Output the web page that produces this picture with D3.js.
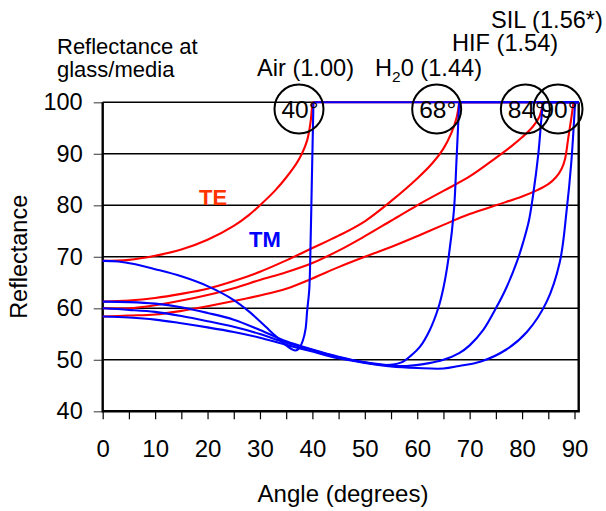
<!DOCTYPE html>
<html><head><meta charset="utf-8">
<script src="https://cdn.jsdelivr.net/npm/d3@7/dist/d3.min.js"></script>
<style>
html,body{margin:0;padding:0;background:#fff;}
svg{display:block;}
text{font-family:"Liberation Sans",Arial,Helvetica,sans-serif;fill:#000;}
</style></head>
<body>
<script>
// ---------- data ----------
const angleTicks = [0,10,20,30,40,50,60,70,80,90];
const minorAngleTicks = [0,5,10,15,20,25,30,35,40,45,50,55,60,65,70,75,80,85,90];
const reflTicks = [40,50,60,70,80,90,100];
const media = ["Air (1.00)", "H20 (1.44)", "HIF (1.54)", "SIL (1.56*)"];
const criticalAngles = [40, 68, 84, 90];
const criticalLabels = ["40°", "68°", "84°", "90°"];

const teAir = [[0,69.2],[5,69.4],[10,70.2],[15,71.4],[20,73.3],[25,76.0],[28,78.2],[30,80.0],[33,83.0],[35,85.4],[37,88.2],[38,90.0],[39,92.6],[39.6,95.8],[40,100]];
const teH2O = [[0,61.3],[5,61.5],[10,62.0],[15,62.8],[20,63.8],[25,65.3],[30,67.1],[35,69.3],[40,71.7],[45,74.1],[50,76.9],[55,80.8],[60,85.2],[63,88.3],[65,91.0],[66.5,94.0],[67.5,97.0],[68,100]];
const teHIF = [[0,60.0],[5,60.0],[10,60.6],[15,61.5],[20,62.6],[25,63.9],[30,65.5],[35,67.0],[40,68.8],[45,71.2],[50,74.0],[55,77.0],[60,80.0],[65,82.8],[70,85.6],[75,89.2],[78,91.5],[80,93.2],[82,95.2],[83.3,97.2],[84,100]];
const teSIL = [[0,58.4],[5,58.6],[10,58.8],[15,59.5],[20,60.4],[25,61.4],[30,62.5],[35,63.8],[40,65.8],[45,68.0],[50,70.0],[55,71.9],[60,74.0],[65,76.2],[70,78.3],[75,80.0],[80,81.7],[83,83.0],[85,84.1],[86.5,85.5],[87.5,87.0],[88.2,89.0],[88.8,93.0],[89.4,97.0],[89.8,100]];

const tmAir = [[0,69.2],[3,69.1],[6,68.6],[10,67.6],[15,66.2],[20,64.3],[25,61.6],[28,59.3],[31,56.5],[33,54.6],[35,52.8],[36,52.1],[36.8,51.8],[37.5,52.3],[38.2,53.8],[38.7,56.0],[39.0,59.5],[39.4,63.6],[39.6,70.0],[39.9,85.0],[40.2,100]];
const tmH2O = [[0,61.3],[5,61.2],[10,60.9],[15,60.2],[20,59.1],[25,57.8],[30,55.8],[35,53.6],[40,52.0],[45,50.6],[50,49.5],[54,49.0],[57,49.5],[59,51.0],[60.5,52.5],[62.4,55.8],[64,60.0],[65,64.0],[66,70.0],[67,79.0],[67.5,89.0],[68,100]];
const tmHIF = [[0,60.0],[5,59.7],[10,59.3],[15,58.5],[20,57.5],[25,56.4],[30,55.0],[35,53.3],[40,51.9],[45,50.5],[50,49.5],[55,48.9],[58,48.8],[62,49.3],[65,50.0],[68,51.3],[70,52.8],[72.6,55.8],[75,60.0],[77,64.0],[79,69.0],[80.2,72.8],[81.3,77.0],[82.1,82.0],[83.1,90.0],[83.7,97.0],[84,100]];
const tmSIL = [[0,58.4],[5,58.2],[10,57.8],[15,57.1],[20,56.3],[25,55.4],[30,54.3],[35,52.9],[40,51.6],[45,50.3],[50,49.4],[55,48.7],[60,48.4],[65,48.3],[68,48.8],[72,49.6],[77,52.0],[81,55.5],[84.7,61.3],[87.2,69.0],[88.5,79.0],[89.4,88.5],[90,98.0],[90.1,100]];

const teSeries = [teAir, teH2O, teHIF, teSIL];
const tmSeries = [tmAir, tmH2O, tmHIF, tmSIL];

// ---------- drawing ----------
const W = 606, H = 511;
const FONT = "Liberation Sans, Arial, sans-serif";
const svg = d3.select("body").append("svg").attr("width", W).attr("height", H);

const xMax = 90.8;
const x = d3.scaleLinear().domain([0, xMax]).range([102.7, 578.7]);
const y = d3.scaleLinear().domain([40, 100]).range([411.3, 102.3]);

// gridlines
svg.append("g").selectAll("line").data(reflTicks.filter(v => v > 40)).join("line")
  .attr("x1", x(0)).attr("x2", x(xMax))
  .attr("y1", d => y(d)).attr("y2", d => y(d))
  .attr("stroke", "#000").attr("stroke-width", 1.6);

// y axis
const yAxis = d3.axisLeft(y).tickValues(reflTicks).tickSize(9).tickPadding(11);
const gy = svg.append("g").attr("transform", `translate(${x(0)},0)`).call(yAxis);
gy.select(".domain").remove();
gy.selectAll(".tick line").attr("stroke", "#555").attr("stroke-width", 1.2);
gy.selectAll(".tick text").attr("font-size", 23.5).attr("font-family", FONT).attr("fill", "#000");

// x axis
const xAxis = d3.axisBottom(x).tickValues(minorAngleTicks).tickSize(8)
  .tickFormat(d => angleTicks.includes(d) ? d : "").tickPadding(21);
const gx = svg.append("g").attr("transform", `translate(0,${y(40)})`).call(xAxis);
gx.select(".domain").remove();
gx.selectAll(".tick line").attr("stroke", "#000").attr("stroke-width", 1.2);
gx.selectAll(".tick text").attr("font-size", 24).attr("font-family", FONT).attr("fill", "#000");

// frame
svg.append("path")
  .attr("d", `M${x(0)},${y(100)} V${y(40)} H${x(xMax)} V${y(100)}`)
  .attr("fill", "none").attr("stroke", "#000").attr("stroke-width", 2.4);

// curves (smooth part up to the critical angle, then total reflection at 100)
const line = d3.line().x(d => x(d[0])).y(d => y(d[1])).curve(d3.curveCatmullRom.alpha(0.5));
const flat = d => { const last = d[d.length - 1]; return `M${x(last[0])},${y(last[1])}H${x(xMax)}`; };
function drawSet(series, color) {
  const g = svg.append("g").attr("fill", "none").attr("stroke", color).attr("stroke-width", 2.1);
  g.selectAll("path.c").data(series).join("path").attr("class", "c").attr("d", line);
  g.selectAll("path.f").data(series).join("path").attr("class", "f").attr("d", flat);
}
drawSet(teSeries, "#ff0000");
drawSet(tmSeries, "#0000ff");

// critical angle circles
const circOffsets = [-13.4, -22.5, -17.7, -16.5];
const cg = svg.append("g");
criticalAngles.forEach((a, i) => {
  const cx = x(a) + circOffsets[i], cy = 109;
  cg.append("circle").attr("cx", cx).attr("cy", cy).attr("r", 24.5)
    .attr("fill", "none").attr("stroke", "#000").attr("stroke-width", 2);
  cg.append("text").attr("x", cx + 1).attr("y", cy + 9).attr("text-anchor", "middle")
    .attr("font-size", 24.5).text(criticalLabels[i]);
});

// media labels
const mediaPos = [[257, 76], [375, 76], [452, 51], [491, 28]];
media.forEach((m, i) => {
  const t = svg.append("text").attr("x", mediaPos[i][0]).attr("y", mediaPos[i][1]).attr("font-size", 23.6);
  if (m.startsWith("H20")) {
    t.append("tspan").text("H");
    t.append("tspan").attr("font-size", 15.5).attr("dy", 6).text("2");
    t.append("tspan").attr("dy", -6).text("0 (1.44)");
  } else {
    t.text(m);
  }
});

// top-left title
svg.append("text").attr("x", 57).attr("y", 53.5).attr("font-size", 22).text("Reflectance at");
svg.append("text").attr("x", 57).attr("y", 77).attr("font-size", 22).text("glass/media");

// TE / TM labels
svg.append("text").attr("x", 199).attr("y", 205).attr("font-size", 22).attr("font-weight", "bold")
  .style("fill", "#ff3300").text("TE");
svg.append("text").attr("x", 249).attr("y", 246.5).attr("font-size", 22).attr("font-weight", "bold")
  .style("fill", "#0000ff").text("TM");

// axis titles
svg.append("text").attr("x", 343).attr("y", 502).attr("text-anchor", "middle")
  .attr("font-size", 24).text("Angle (degrees)");
svg.append("text").attr("transform", `translate(27,${(y(40) + y(100)) / 2}) rotate(-90)`)
  .attr("text-anchor", "middle").attr("font-size", 23.5).text("Reflectance");
</script>
</body></html>
